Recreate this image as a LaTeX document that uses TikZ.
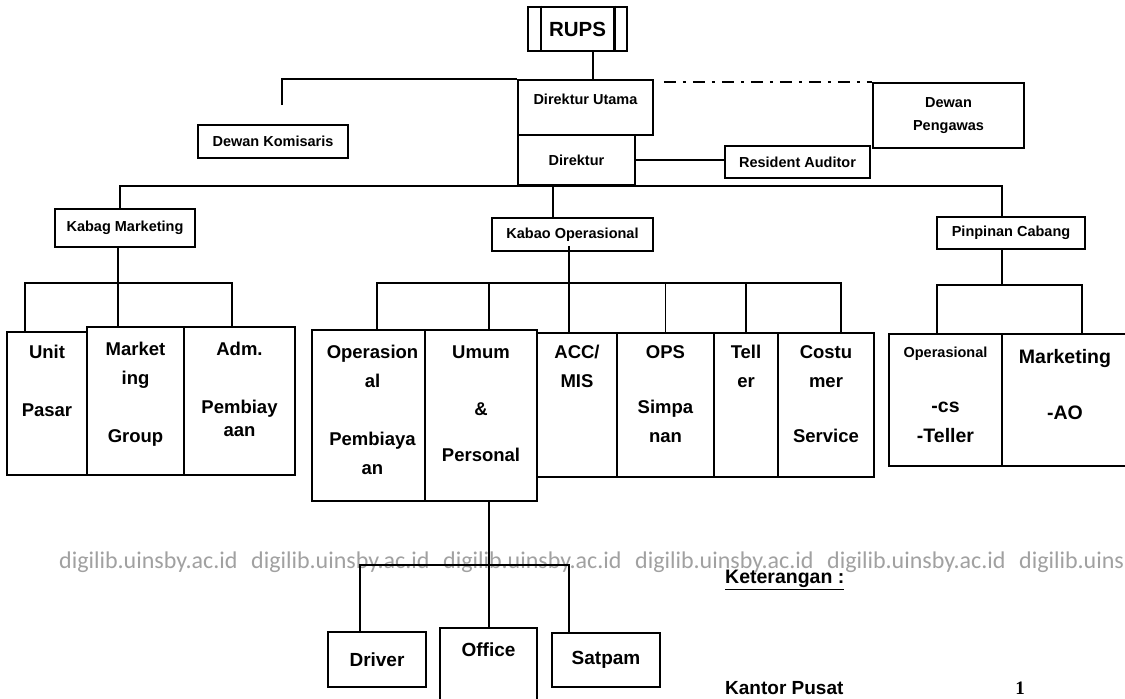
\documentclass[tikz,border=0pt]{standalone}
\usepackage{fontspec}
\setmainfont{Liberation Sans}
\newfontfamily\wmfont{Carlito}
\newfontfamily\numfont{Liberation Serif}
\usetikzlibrary{positioning, calc}

\definecolor{wmgray}{gray}{0.63}
\tikzset{
  box/.style={draw, line width=1.8pt, inner sep=0pt, align=center, font=\bfseries\fontsize{14.5}{23}\selectfont},
  lowbox/.style={box, font=\bfseries\fontsize{19}{23}\selectfont},
  cell/.style={draw, line width=1.8pt, inner sep=0pt},
  celltext/.style={anchor=north, align=center, inner sep=0pt, font=\bfseries\fontsize{18.5}{29}\selectfont},
  bigtext/.style={celltext, font=\bfseries\fontsize{19.5}{30}\selectfont},
  boxtext/.style={anchor=north, inner sep=0pt, font=\bfseries\fontsize{14.5}{17}\selectfont},
  link/.style={line width=1.8pt},
  wmark/.style={anchor=west, inner sep=0pt, text=wmgray, font=\wmfont\fontsize{24}{24}\selectfont}
}

\begin{document}
\begin{tikzpicture}[x=1pt, y=-1pt]
    \useasboundingbox (0,0) rectangle (1125,699);
    \fill[white] (0,0) rectangle (1125,699);

    \foreach \k in {0,...,5} {\node[wmark] (wm\k) at ({59+192*\k},562) {digilib.uinsby.ac.id};}

    \node[box, line width=2.6pt, minimum width=99, minimum height=44, font=\bfseries\fontsize{20.5}{24}\selectfont] (rups) at (577.5,29) {RUPS};
    \draw[line width=2.4pt] ([xshift=14pt]rups.north west) -- ([xshift=14pt]rups.south west);
    \draw[line width=2.4pt] ([xshift=-14pt]rups.north east) -- ([xshift=-14pt]rups.south east);

    \node[cell, minimum width=135, minimum height=55, label={[boxtext, yshift=-13pt]north:\strut Direktur Utama}] (dirut) at (585.5,107.5) {};
    \node[box, minimum width=117, minimum height=50] (dir) at (576.5,160) {Direktur};
    \node[box, minimum width=150, minimum height=33] (komis) at (273,141.5) {Dewan Komisaris};
    \node[box, minimum width=151, minimum height=65] (pengawas) at (948.5,115.5) {Dewan\\Pengawas};
    \node[box, minimum width=145, minimum height=32] (resaud) at (797.5,162) {Resident Auditor};

    \node[box, minimum width=140, minimum height=38] (kabmkt) at (125,228) {Kabag Marketing};
    \node[box, minimum width=161, minimum height=33] (kabop) at (572.5,234.5) {Kabao Operasional};
    \node[box, minimum width=148, minimum height=32] (pinca) at (1011,233) {Pinpinan Cabang};

    \node[cell, minimum width=80, minimum height=143, label={[celltext, yshift=-7.3pt]north:\strut Unit\\[28.5pt]Pasar}] (upasar) at (47,403.5) {};
    \node[cell, minimum width=97, minimum height=148, label={[celltext, yshift=-9.3pt]north:\strut Market\\ing\\[29pt]Group}] (mktgrp) at (135.5,401) {};
    \node[cell, minimum width=111, minimum height=148, label={[celltext, yshift=-9.3pt]north:\strut Adm.\\[29pt]Pembiay\\[-6pt]aan}] (adm) at (239.5,401) {};

    \node[cell, minimum width=113, minimum height=171, label={[celltext, yshift=-9.3pt, xshift=4pt]north:\strut Operasion\\al\\[29pt]Pembiaya\\an}] (opem) at (368.5,415.5) {};
    \node[cell, minimum width=112, minimum height=171, label={[celltext, yshift=-9.3pt]north:\strut Umum\\[28pt]\&\\[17pt]Personal}] (umum) at (481,415.5) {};
    \node[cell, minimum width=80, minimum height=144, label={[celltext, yshift=-6.3pt]north:\strut ACC/\\MIS}] (acc) at (577,405) {};
    \node[cell, minimum width=97, minimum height=144, label={[celltext, yshift=-6.3pt]north:\strut OPS\\[26pt]Simpa\\nan}] (ops) at (665.5,405) {};
    \node[cell, minimum width=64, minimum height=144, label={[celltext, yshift=-6.3pt]north:\strut Tell\\er}] (teller) at (746,405) {};
    \node[cell, minimum width=96, minimum height=144, label={[celltext, yshift=-6.3pt]north:\strut Costu\\mer\\[26pt]Service}] (cs) at (826,405) {};

    \node[cell, minimum width=113, minimum height=132, label={[bigtext, yshift=-3.2pt]north:\strut{\fontsize{14.5}{17}\selectfont Operasional}\\[25pt]-cs\\-Teller}] (cops) at (945.5,400) {};
    \node[cell, minimum width=138, minimum height=132, label={[bigtext, yshift=-9pt, xshift=-6pt]north:\strut Marketing\\[26pt]-AO}] (cmkt) at (1071,400) {};

    \node[lowbox, minimum width=98, minimum height=55] (driver) at (377,659.5) {Driver};
    \node[cell, minimum width=97, minimum height=82, label={[celltext, font=\bfseries\fontsize{19}{23}\selectfont, yshift=-12.7pt]north:\strut Office}] (office) at (488.5,669) {};
    \node[lowbox, minimum width=108, minimum height=54] (satpam) at (606,660) {Satpam};

    \node[anchor=west, inner sep=0pt, font=\bfseries\fontsize{19.5}{23}\selectfont] (ket) at (725,580) {\underline{Keterangan :}};
    \node[anchor=west, inner sep=0pt, font=\bfseries\fontsize{19}{23}\selectfont] (kantor) at (725,688) {Kantor Pusat};
    \node[inner sep=0pt, font=\numfont\bfseries\fontsize{19}{23}\selectfont] (jml) at (1020,688) {1};

    \coordinate (komend) at (282,105);
    \coordinate (mbus) at (118,283);
    \coordinate (obus) at (569,283);
    \coordinate (cbus) at (1002,285);
    \coordinate (ubus) at (489,565);

    \draw[link] ([xshift=15.5pt]rups.south) -- ([xshift=15.5pt]rups.south |- dirut.north);
    \draw[link] (komend) |- (dirut.north west);
    \draw[link, line width=2.2pt, dash pattern=on 12pt off 7pt on 3pt off 7pt] ([xshift=10pt]dirut.north east |- pengawas.north) -- (pengawas.north west);
    \draw[link] (dir.east) -- (dir.east -| resaud.west);

    \draw[link] ([xshift=-5pt]kabmkt.north) |- ([xshift=-9pt]pinca.north |- dir.south) -- ([xshift=-9pt]pinca.north);
    \draw[link] ([xshift=-19.5pt]kabop.north) -- ([xshift=-19.5pt]kabop.north |- dir.south);

    \draw[link] ([xshift=-7pt]kabmkt.south) -- (mktgrp.north -| mbus);
    \draw[link] ([xshift=-22pt]upasar.north) |- (mbus) -| ([xshift=-7.5pt]adm.north);

    \draw[link] ([yshift=6pt]kabop.south -| obus) -- (acc.north -| obus);
    \draw[link] ([xshift=8.5pt]opem.north) |- (obus) -| ([xshift=15pt]cs.north);
    \draw[link] ([xshift=8pt]umum.north) -- ([xshift=8pt]umum.north |- obus);
    \draw[link] (ops.north) -- (ops.north |- obus);
    \draw[link] (teller.north) -- (teller.north |- obus);

    \draw[link] ([xshift=-9pt]pinca.south) -- (cbus);
    \draw[link] ([xshift=-8.5pt]cops.north) |- (cbus) -| ([xshift=11pt]cmkt.north);

    \draw[link] ([xshift=8pt]umum.south) -- (office.north -| ubus);
    \draw[link] ([xshift=-17pt]driver.north) |- (ubus) -| ([xshift=-37pt]satpam.north);
\end{tikzpicture}
\end{document}
